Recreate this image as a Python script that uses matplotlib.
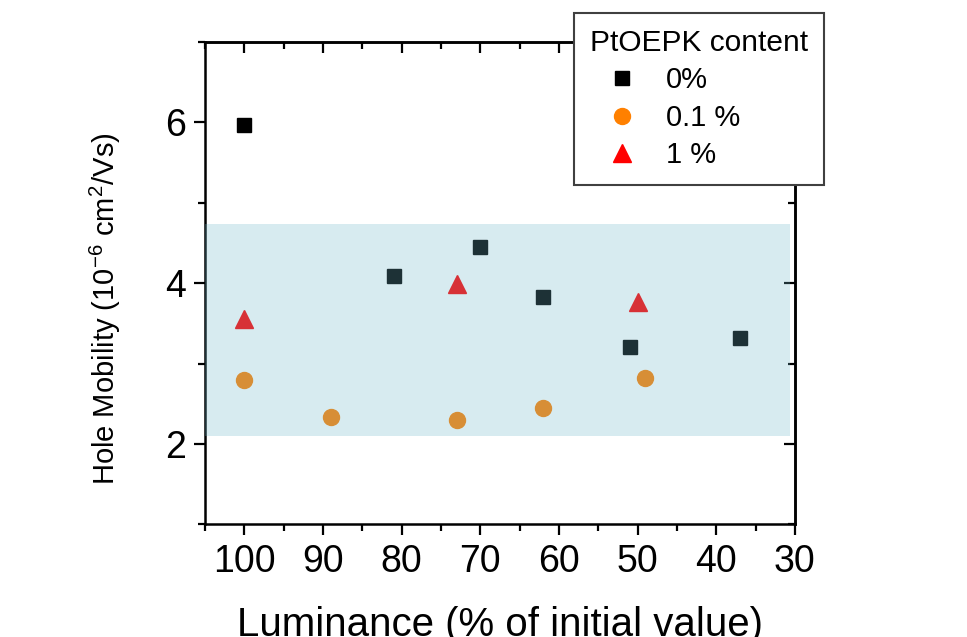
import matplotlib
matplotlib.use("Agg")
import matplotlib.pyplot as plt
from matplotlib.ticker import MultipleLocator

plt.rcParams['font.family'] = ['Liberation Sans', 'DejaVu Sans']
plt.rcParams['mathtext.fontset'] = 'custom'
plt.rcParams['mathtext.rm'] = 'Liberation Sans'
plt.rcParams['mathtext.it'] = 'Liberation Sans:italic'

# Hole mobility vs. remaining luminance for three PtOEPK doping levels
lum_0 = [100, 81, 70, 62, 51, 37]
mob_0 = [5.97, 4.09, 4.45, 3.83, 3.21, 3.32]

lum_01 = [100, 89, 73, 62, 49]
mob_01 = [2.79, 2.33, 2.30, 2.45, 2.82]

lum_1 = [100, 73, 50]
mob_1 = [3.55, 3.99, 3.76]

labels = ['0%', '0.1 %', '1 %']

# shaded mobility range
band_x = [105, 30.6]
band_low = 2.10
band_high = 4.73

fig = plt.figure(figsize=(9.67, 6.37), dpi=100)
ax = fig.add_axes([0.212, 0.177, 0.610, 0.757])

ax.plot(lum_0, mob_0, ls='none', marker='s', ms=10, color='black',
        mec='black', label=labels[0], zorder=3)
ax.plot(lum_01, mob_01, ls='none', marker='o', ms=11.5, color='#ff8000',
        mec='#ff8000', label=labels[1], zorder=3)
ax.plot(lum_1, mob_1, ls='none', marker='^', ms=13, color='#ff0000',
        mec='#ff0000', label=labels[2], zorder=3)

ax.fill_between(band_x, band_low, band_high, color='#6db6c8', alpha=0.27,
                lw=0, zorder=4)

ax.set_xlim(105, 30)
ax.set_ylim(1, 7)
ax.xaxis.set_major_locator(MultipleLocator(10))
ax.xaxis.set_minor_locator(MultipleLocator(5))
ax.yaxis.set_major_locator(MultipleLocator(2))
ax.yaxis.set_minor_locator(MultipleLocator(1))

for s in ax.spines.values():
    s.set_linewidth(1.8)
    s.set_color('black')

ax.tick_params(which='both', direction='out', top=False, right=False,
               width=1.6, labelsize=27, pad=6)
ax.tick_params(which='major', length=8)
ax.tick_params(which='minor', length=5)

# mirrored ticks pointing inward on top and right
sx = ax.secondary_xaxis('top')
sx.xaxis.set_major_locator(MultipleLocator(10))
sx.xaxis.set_minor_locator(MultipleLocator(5))
sx.tick_params(which='both', direction='in', labeltop=False, width=1.6)
sx.tick_params(which='major', length=8)
sx.tick_params(which='minor', length=5)
sx.spines['top'].set_linewidth(1.8)

sy = ax.secondary_yaxis('right')
sy.yaxis.set_major_locator(MultipleLocator(2))
sy.yaxis.set_minor_locator(MultipleLocator(1))
sy.tick_params(which='both', direction='in', labelright=False, width=1.6)
sy.tick_params(which='major', length=8)
sy.tick_params(which='minor', length=5)
sy.spines['right'].set_linewidth(1.8)

ax.set_xlabel('Luminance (% of initial value)', fontsize=29, labelpad=19)
ax.set_ylabel(r'Hole Mobility (10$^{-6}$ cm$^2$/Vs)', fontsize=21)
ax.yaxis.set_label_coords(-0.139, 0.448)

leg = ax.legend(title='PtOEPK content', loc='upper left',
                bbox_to_anchor=(574 / 967, 1 - 13 / 637),
                bbox_transform=fig.transFigure, borderaxespad=0,
                fontsize=21, title_fontsize=21.5, alignment='left',
                frameon=True, fancybox=False, framealpha=1,
                edgecolor='#404040', borderpad=0.55, labelspacing=0.32,
                handlelength=2.2, handletextpad=0.4)
leg.get_frame().set_linewidth(1.5)
leg.set_zorder(10)

fig.savefig('out.png', dpi=100)
